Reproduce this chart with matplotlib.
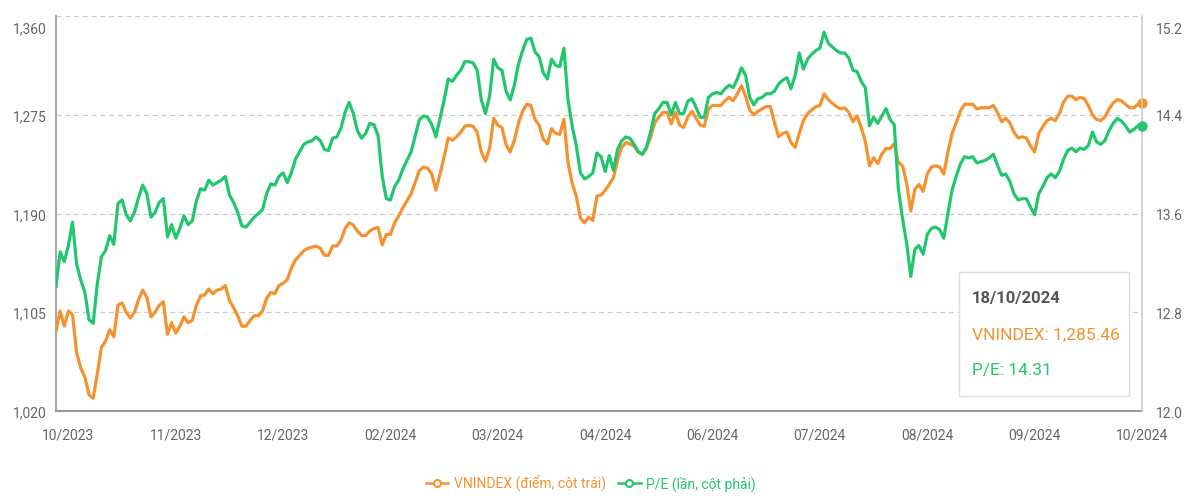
import numpy as np
import matplotlib
matplotlib.use("Agg")
import matplotlib.pyplot as plt
from matplotlib.lines import Line2D
from matplotlib.patches import Rectangle
import matplotlib.transforms as mtransforms

# ---------------- data ----------------
vnindex = [1089,1106,1093,1106,1103,1070,1057,1049,1034,1031,1052,1075,1080,1090,1084,1111,1113,1105,1100,1105,
           1116,1124,1118,1101,1105,1111,1114,1086,1096,1087,1093,1101,1096,1098,1111,1119,1120,1125,1121,1124,
           1125,1128,1115,1109,1102,1093,1093,1098,1102,1102,1106,1117,1122,1121,1128,1130,1133,1143,1150,1154,
           1158,1160,1161,1162,1160,1154,1154,1162,1162,1167,1177,1182,1180,1175,1171,1171,1175,1177,1178,1163,
           1172,1172,1182,1188,1195,1201,1207,1217,1227,1230,1229,1224,1210,1224,1239,1255,1253,1256,1260,1265,
           1266,1265,1260,1243,1235,1246,1272,1266,1264,1249,1243,1253,1268,1278,1284,1283,1271,1266,1254,1250,
           1263,1259,1258,1271,1234,1216,1205,1186,1182,1187,1184,1205,1206,1210,1215,1221,1236,1247,1251,1250,
           1248,1243,1241,1246,1256,1268,1273,1277,1277,1267,1277,1266,1264,1273,1278,1272,1266,1265,1280,1283,
           1283,1283,1287,1290,1287,1293,1300,1291,1279,1275,1278,1280,1282,1282,1268,1256,1259,1260,1251,1247,
           1259,1270,1276,1279,1282,1283,1293,1288,1285,1282,1280,1281,1277,1269,1274,1264,1252,1231,1238,1233,
           1241,1246,1246,1250,1234,1231,1216,1192,1211,1215,1209,1224,1230,1231,1230,1224,1243,1259,1268,1278,
           1284,1284,1284,1280,1281,1281,1281,1283,1277,1269,1272,1268,1260,1255,1256,1255,1248,1243,1259,1265,
           1270,1272,1270,1276,1286,1291,1291,1288,1290,1289,1283,1275,1271,1270,1273,1280,1285,1288,1287,1284,
           1281,1281,1284,1285.46]

pe = [13.01,13.29,13.21,13.34,13.53,13.19,13.06,12.96,12.74,12.71,13.03,13.25,13.30,13.42,13.35,13.68,13.71,13.59,13.54,13.61,
      13.73,13.83,13.76,13.57,13.61,13.69,13.72,13.41,13.51,13.40,13.48,13.58,13.51,13.54,13.70,13.80,13.79,13.87,13.83,13.85,
      13.87,13.90,13.75,13.69,13.61,13.50,13.49,13.53,13.57,13.60,13.63,13.76,13.84,13.83,13.90,13.93,13.85,13.93,14.04,14.10,
      14.16,14.18,14.19,14.22,
      14.19,14.12,14.11,14.21,14.22,14.29,14.42,14.50,14.41,14.27,14.21,14.25,14.33,14.32,14.23,13.90,13.72,13.71,13.82,13.87,
      13.96,14.03,14.10,14.23,14.36,14.39,14.38,14.32,14.22,14.37,14.52,14.69,14.67,14.72,14.76,14.83,14.83,14.82,14.76,14.52,
      14.41,14.55,14.85,14.78,14.76,14.59,14.52,14.64,14.81,14.92,15.01,15.02,14.91,14.87,14.74,14.69,14.85,14.80,14.79,14.94,
      14.52,14.31,14.15,13.93,13.88,13.90,13.93,14.09,14.06,13.94,14.07,13.95,14.12,14.19,14.22,14.21,14.16,14.10,14.08,14.14,
      14.26,14.41,14.45,14.50,14.50,14.40,14.50,14.41,14.41,14.51,14.53,14.46,14.38,14.38,14.54,14.57,14.58,14.57,14.61,14.64,
      14.62,14.69,14.78,14.72,14.54,14.48,14.53,14.54,14.57,14.57,14.59,14.65,14.68,14.70,14.61,14.72,14.90,14.77,14.85,14.89,
      14.92,14.94,15.07,14.98,14.95,14.92,14.90,14.90,14.86,14.76,14.75,14.67,14.62,14.31,14.38,14.33,14.39,14.45,14.36,14.32,
      13.80,13.56,13.36,13.09,13.31,13.34,13.27,13.43,13.48,13.49,13.47,13.40,13.60,13.79,13.90,14.00,14.06,14.05,14.06,14.01,
      14.02,14.03,14.05,14.08,13.99,13.91,13.92,13.86,13.76,13.71,13.72,13.72,13.65,13.59,13.76,13.82,13.89,13.92,13.89,13.94,
      14.04,14.11,14.13,14.10,14.13,14.12,14.15,14.26,14.18,14.16,14.19,14.27,14.33,14.37,14.35,14.31,14.26,14.28,14.31,14.31]

x_labels = ["10/2023", "11/2023", "12/2023", "02/2024", "03/2024", "04/2024",
            "06/2024", "07/2024", "08/2024", "09/2024", "10/2024"]
label_every = 26
left_ticks = [1020, 1105, 1190, 1275, 1360]
right_ticks = [12.0, 12.8, 13.6, 14.4, 15.2]
series_names = ["VNINDEX (điểm, cột trái)", "P/E (lần, cột phải)"]
tooltip_date = "18/10/2024"

# ---------------- style ----------------
ORANGE = "#F5922F"
GREEN = "#22C66E"
plt.rcParams['font.family'] = ['Roboto', 'DejaVu Sans']

fig = plt.figure(figsize=(12, 5.02), dpi=100)
ax = fig.add_axes([56/1200, 1-412/502, (1142-56)/1200, (412-17)/502])
ax2 = ax.twinx()

n = len(vnindex)
ax.plot(np.arange(n), vnindex, color=ORANGE, lw=2.3, solid_joinstyle='round', zorder=3)
ax2.plot(np.arange(len(pe)), pe, color=GREEN, lw=2.3, solid_joinstyle='round', zorder=3)
ax.plot([n - 1], [vnindex[-1]], 'o', color=ORANGE, ms=6.5, clip_on=False, zorder=4)
ax2.plot([len(pe) - 1], [pe[-1]], 'o', color=GREEN, ms=6.5, clip_on=False, zorder=4)

ax.set_xlim(0, n - 1)
ax.set_ylim(left_ticks[0], left_ticks[-1])
ax2.set_ylim(right_ticks[0], right_ticks[-1])
ax.set_yticks(left_ticks)
ax.set_yticklabels([f"{v:,}" for v in left_ticks])
ax2.set_yticks(right_ticks)
ax2.set_yticklabels([f"{v:.1f}" for v in right_ticks])
ax.set_xticks([n - 1 - label_every * (len(x_labels) - 1 - j) for j in range(len(x_labels))])
ax.set_xticklabels(x_labels)

ax.grid(axis='y', color='#cccccc', linestyle=(0, (4, 3)), lw=0.9)
ax.set_axisbelow(True)
for a in (ax, ax2):
    a.spines['top'].set_visible(False)
    a.tick_params(length=0, colors='#666666', labelsize=10)
ax.spines['left'].set_color('#aaaaaa'); ax.spines['left'].set_linewidth(1.5)
ax.spines['bottom'].set_color('#999999'); ax.spines['bottom'].set_linewidth(1.5)
ax.spines['right'].set_visible(False)
ax2.spines['right'].set_color('#cccccc'); ax2.spines['right'].set_linewidth(1.2)
ax2.spines['left'].set_visible(False); ax2.spines['bottom'].set_visible(False)
ax.tick_params(axis='y', pad=7)
ax2.tick_params(axis='y', pad=10)
ax.tick_params(axis='x', pad=12)

fig.canvas.draw()
off = mtransforms.ScaledTranslation(0, -8/72, fig.dpi_scale_trans)
for lab in (ax.get_yticklabels()[-1], ax2.get_yticklabels()[-1]):
    lab.set_transform(lab.get_transform() + off)

# ---------------- tooltip ----------------
fig.add_artist(Rectangle((959/1200, 1-397/502), 170/1200, 124/502, transform=fig.transFigure,
                         facecolor='white', edgecolor='#dddddd', lw=1.0, zorder=10))
fig.text(972/1200, 1-299/502, tooltip_date, color='#555555', fontsize=12,
         fontweight='bold', va='center', zorder=11)
fig.text(972/1200, 1-335/502, f"VNINDEX: {vnindex[-1]:,.2f}", color=ORANGE, fontsize=12.5,
         va='center', zorder=11)
fig.text(972/1200, 1-370/502, f"P/E: {pe[-1]:.2f}", color=GREEN, fontsize=12.5,
         va='center', zorder=11)

# ---------------- legend ----------------
handles = [Line2D([], [], color=ORANGE, lw=1.8, marker='o', ms=5, mfc='white', mew=1.5),
           Line2D([], [], color=GREEN, lw=1.8, marker='o', ms=5, mfc='white', mew=1.5)]
fig.legend(handles, series_names, loc='center', bbox_to_anchor=(591/1200, 1-484/502), ncol=2,
           frameon=False, fontsize=10, labelcolor='linecolor', handlelength=1.6,
           handletextpad=0.4, columnspacing=0.9)

fig.savefig("out.png", dpi=100)
